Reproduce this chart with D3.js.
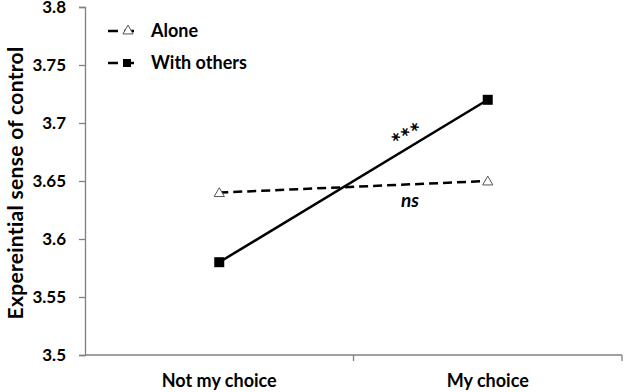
<!DOCTYPE html>
<html>
<head>
<meta charset="utf-8">
<script src="https://cdn.jsdelivr.net/npm/d3@7"></script>
<style>
  body { margin: 0; background: #fff; }
  text { font-family: Lato, "Open Sans", sans-serif; font-weight: bold; }
</style>
</head>
<body>
<div id="chart"></div>
<script>
'use strict';

// categories and series
const categories = ['Not my choice', 'My choice'];
const aloneValues = [3.64, 3.65];
const othersValues = [3.58, 3.72];
const yTicks = [3.5, 3.55, 3.6, 3.65, 3.7, 3.75, 3.8];
const seriesNames = ['Alone', 'With others'];

const width = 629, height = 392;
const margin = {top: 7, right: 7, bottom: 37, left: 85};

const svg = d3.select('#chart').append('svg')
  .attr('width', width)
  .attr('height', height);

const x = d3.scaleBand()
  .domain(categories)
  .range([margin.left, width - margin.right]);

const y = d3.scaleLinear()
  .domain([3.5, 3.8])
  .range([height - margin.bottom, margin.top]);

// y axis
const yAxis = svg.append('g')
  .attr('transform', `translate(${margin.left},0)`)
  .call(d3.axisLeft(y).tickValues(yTicks).tickSize(6).tickPadding(13)
    .tickFormat(d3.format('')));
yAxis.selectAll('path, line').attr('stroke', '#808080').attr('stroke-width', 1.3);
yAxis.selectAll('text').attr('font-size', 17).attr('fill', '#000');

// x axis, ticks on the band boundaries
const xAxis = svg.append('g')
  .attr('transform', `translate(0,${height - margin.bottom})`);
xAxis.append('line')
  .attr('x1', margin.left).attr('x2', width - margin.right)
  .attr('stroke', '#808080').attr('stroke-width', 1.3);
xAxis.selectAll('.tick')
  .data(categories)
  .join('line')
  .attr('x1', d => x(d) + x.bandwidth())
  .attr('x2', d => x(d) + x.bandwidth())
  .attr('y1', 0).attr('y2', 6)
  .attr('stroke', '#808080').attr('stroke-width', 1.3);
xAxis.selectAll('.label')
  .data(categories)
  .join('text')
  .attr('x', d => x(d) + x.bandwidth() / 2)
  .attr('y', 32)
  .attr('text-anchor', 'middle')
  .attr('font-size', 18)
  .text(d => d);

// y axis title
svg.append('text')
  .attr('transform', 'translate(23,183) rotate(-90)')
  .attr('text-anchor', 'middle')
  .attr('font-size', 21)
  .attr('letter-spacing', 0.3)
  .text('Expereintial sense of control');

const line = d3.line()
  .x((d, i) => x(categories[i]) + x.bandwidth() / 2)
  .y(d => y(d));

const triangle = d3.symbol().type(d3.symbolTriangle).size(45);

// Alone: dashed with open triangles
svg.append('path')
  .attr('d', line(aloneValues))
  .attr('fill', 'none')
  .attr('stroke', '#000')
  .attr('stroke-width', 2.5)
  .attr('stroke-dasharray', '9,5');
svg.selectAll('.alone')
  .data(aloneValues)
  .join('path')
  .attr('transform', (d, i) =>
    `translate(${x(categories[i]) + x.bandwidth() / 2},${y(d) + 1})`)
  .attr('d', triangle)
  .attr('fill', '#fff')
  .attr('stroke', '#555')
  .attr('stroke-width', 1);

// With others: solid with filled squares
svg.append('path')
  .attr('d', line(othersValues))
  .attr('fill', 'none')
  .attr('stroke', '#000')
  .attr('stroke-width', 2.5);
svg.selectAll('.others')
  .data(othersValues)
  .join('rect')
  .attr('x', (d, i) => x(categories[i]) + x.bandwidth() / 2 - 5)
  .attr('y', d => y(d) - 5)
  .attr('width', 10)
  .attr('height', 10)
  .attr('fill', '#000');

// significance labels
svg.append('text')
  .attr('transform', 'translate(412,145) rotate(-28)')
  .attr('text-anchor', 'middle')
  .attr('font-size', 25)
  .attr('font-weight', 'normal')
  .text('***');
svg.append('text')
  .attr('x', 410)
  .attr('y', 207)
  .attr('text-anchor', 'middle')
  .attr('font-size', 19)
  .attr('font-style', 'italic')
  .text('ns');

// legend
const legend = svg.append('g');
const legendRows = [
  {name: seriesNames[0], y: 31, marker: 'triangle'},
  {name: seriesNames[1], y: 63, marker: 'square'}
];
legendRows.forEach(r => {
  legend.append('line')
    .attr('x1', 108).attr('x2', 137)
    .attr('y1', r.y).attr('y2', r.y)
    .attr('stroke', '#000')
    .attr('stroke-width', 2.5)
    .attr('stroke-dasharray', '10,6');
  if (r.marker === 'triangle') {
    legend.append('path')
      .attr('transform', `translate(128,${r.y})`)
      .attr('d', triangle)
      .attr('fill', '#fff')
      .attr('stroke', '#555')
      .attr('stroke-width', 1);
  } else {
    legend.append('rect')
      .attr('x', 123).attr('y', r.y - 4)
      .attr('width', 8).attr('height', 8)
      .attr('fill', '#000');
  }
  legend.append('text')
    .attr('x', 151)
    .attr('y', r.y + 6)
    .attr('font-size', 18)
    .text(r.name);
});
</script>
</body>
</html>
